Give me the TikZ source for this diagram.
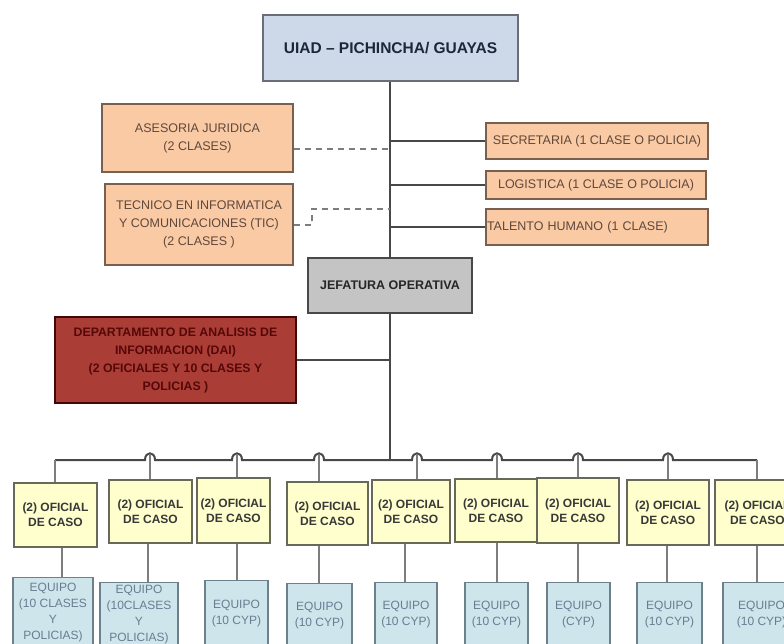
\documentclass[tikz,border=0pt]{standalone}
\usepackage{fontspec}
\setmainfont{Liberation Sans}
\definecolor{topfill}{RGB}{205,217,232}
\definecolor{topline}{RGB}{105,110,120}
\definecolor{toptext}{RGB}{30,38,58}
\definecolor{peach}{RGB}{250,202,164}
\definecolor{peachline}{RGB}{120,95,80}
\definecolor{peachtext}{RGB}{95,72,60}
\definecolor{jefgray}{RGB}{196,196,196}
\definecolor{daifill}{RGB}{170,62,54}
\definecolor{daitext}{RGB}{85,8,8}
\definecolor{yelfill}{RGB}{255,255,206}
\definecolor{yelline}{RGB}{105,105,90}
\definecolor{eqfill}{RGB}{206,229,236}
\definecolor{eqline}{RGB}{110,128,140}
\definecolor{eqtext}{RGB}{105,125,145}
\definecolor{wire}{RGB}{72,72,72}
\definecolor{wirelight}{RGB}{125,125,125}
\begin{document}
\begin{tikzpicture}[x=1pt,y=-1pt,
  box/.style={draw, line width=1.3pt, inner sep=0pt, align=center},
  topbox/.style={box, fill=topfill, draw=topline, text=toptext,
    font=\fontsize{15.5}{18}\selectfont\bfseries},
  sidebox/.style={box, fill=peach, draw=peachline, text=peachtext,
    font=\fontsize{12.5}{18}\selectfont},
  jefbox/.style={box, fill=jefgray, draw=wire, text=black!85,
    font=\fontsize{12.5}{15}\selectfont\bfseries},
  daibox/.style={box, fill=daifill, draw=daitext!80!black, text=daitext,
    font=\fontsize{12.3}{18}\selectfont\bfseries},
  casebox/.style={box, fill=yelfill, draw=yelline, text=black!78,
    font=\fontsize{12}{15}\selectfont\bfseries},
  teambox/.style={box, fill=eqfill, draw=eqline, text=eqtext,
    font=\fontsize{12}{16}\selectfont},
  spine/.style={draw=wire, line width=2.2pt},
  link/.style={draw=wire, line width=1.6pt},
  drop/.style={draw=wirelight, line width=1.8pt},
  advice/.style={draw=wirelight, line width=1.3pt, dash pattern=on 6pt off 5pt}]

\useasboundingbox (0,0) rectangle (784,643);
\clip (0,0) rectangle (784,643);
\fill[white] (0,0) rectangle (784,643);

% ---- top of the structure ----
\node[topbox, minimum width=255, minimum height=66] (uiad) at (390.5,48)
  {UIAD -- PICHINCHA/ GUAYAS};

\node[sidebox, minimum width=191, minimum height=68] (ases) at (197.5,138)
  {ASESORIA JURIDICA\\(2 CLASES)};
\node[sidebox, minimum width=188, minimum height=81] (tic) at (199,224.5)
  {TECNICO EN INFORMATICA\\Y COMUNICACIONES (TIC)\\(2 CLASES )};

\node[sidebox, minimum width=222, minimum height=36] (secr) at (597,141)
  {SECRETARIA (1 CLASE O POLICIA)};
\node[sidebox, minimum width=220, minimum height=28] (logi) at (596,185)
  {LOGISTICA (1 CLASE O POLICIA)};
\node[sidebox, minimum width=222, minimum height=36, align=left,
  text width=220] (tale) at (597,227)
  {TALENTO HUMANO (1 CLASE)};

\node[jefbox, minimum width=164, minimum height=55] (jef) at (390,285.5)
  {JEFATURA OPERATIVA};

\node[daibox, minimum width=241, minimum height=86] (dai) at (175.5,360)
  {DEPARTAMENTO DE ANALISIS DE\\INFORMACION (DAI)\\(2 OFICIALES Y 10 CLASES Y\\POLICIAS )};

% ---- points on the spine and the bus ----
\coordinate (busL) at (55,460);
\coordinate (busM) at (390,460);
\coordinate (busR) at (757,460);
\coordinate (sAses) at (390,149);
\coordinate (sTic) at (390,209);
\coordinate (ticBend) at (312,225);

% spine
\path[spine] (uiad.south -| busM) -- (jef.north -| busM);
\path[spine] (jef.south -| busM) -- (busM);

% staff units on the right
\path[link] (secr.west -| busM) -- (secr.west);
\path[link] (logi.west -| busM) -- (logi.west);
\path[link] (tale.west -| busM) -- (tale.west);

% advisory units (dashed)
\path[advice] (ases.east |- sAses) -- (sAses);
\path[advice] (tic.east |- ticBend) -- (ticBend) -- (ticBend |- sTic) -- (sTic);

% analysis department
\path[link] (dai.east) -- (dai.east -| busM);

% bus with line jumps
\path[spine, line width=2pt] (busL)
  \foreach \x in {150,237,319,417,497,578,668}{
    -- ({\x-5},460) .. controls ({\x-5},451) and ({\x+5},451) .. ({\x+5},460)}
  -- (busR);

% ---- case officers ----
\foreach \i/\cx/\cy/\w/\h/\bx in {
  1/55.5/515/83/64/55,
  2/150.5/511.5/83/63/150,
  3/233.5/510.5/73/65/237,
  4/327.5/513.5/81/63/319,
  5/411/511.5/78/63/417,
  6/496/510.5/82/63/497,
  7/578/510.5/82/65/578,
  8/668/512.5/82/65/668,
  9/757.5/512.5/85/65/757}{
  \node[casebox, minimum width=\w, minimum height=\h] (case\i) at (\cx,\cy)
    {(2) OFICIAL\\DE CASO};
  \coordinate (hop\i) at (\bx,453.5);
}
\path[drop] (busL) -- (case1.north -| busL);
\path[drop] (busR) -- (case9.north -| busR);
\foreach \i in {2,...,8}{
  \path[drop] (hop\i) -- (case\i.north -| hop\i);
}

% ---- teams ----
\foreach \i/\cx/\w/\h/\dx/\txt in {
  1/53/80/69/62/{EQUIPO\\(10 CLASES\\Y\\POLICIAS)},
  2/139/78/64/148/{EQUIPO\\(10CLASES\\Y\\POLICIAS)},
  3/236.5/63/66/237/{EQUIPO\\(10 CYP)},
  4/319.5/65/63/319/{EQUIPO\\(10 CYP)},
  5/406/62/64/405/{EQUIPO\\(10 CYP)},
  6/496.5/63/64/497/{EQUIPO\\(10 CYP)},
  7/578.5/63/64/578/{EQUIPO\\(CYP)},
  8/669.5/65/64/667/{EQUIPO\\(10 CYP)},
  9/761.5/77/64/757/{EQUIPO\\(10 CYP)}}{
  \node[teambox, minimum width=\w, minimum height=\h, anchor=north]
    (team\i) at (\cx,{646-\h}) {\txt};
  \coordinate (tx\i) at (\dx,0);
  \path[drop, line width=1.5pt] (case\i.south -| tx\i) -- (team\i.north -| tx\i);
}
\end{tikzpicture}
\end{document}
